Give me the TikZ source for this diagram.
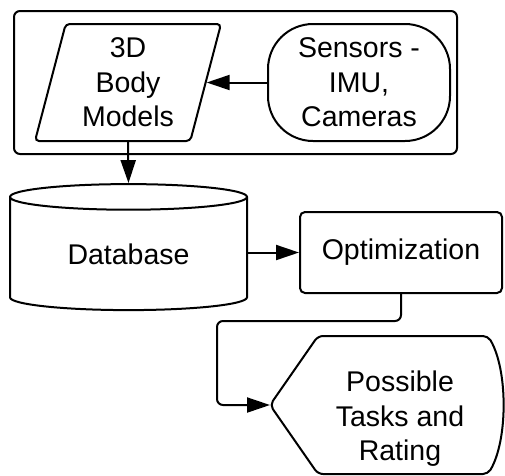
\documentclass[tikz,border=0pt]{standalone}
\usepackage{fontspec}
\setmainfont{Liberation Sans}
\usetikzlibrary{shapes.geometric, arrows.meta}

\tikzset{
    block/.style={draw, line width=2pt, align=center,
        font=\fontsize{28.5}{34.5}\selectfont},
    conn/.style={line width=2pt, -{Triangle[length=23pt,width=15pt]}}
}

\begin{document}
\begin{tikzpicture}[x=1pt, y=-1pt]
    \useasboundingbox (0,0) rectangle (505,475);

    % Sensing group
    \node[draw, line width=2pt, rounded corners=6pt,
        minimum width=443pt, minimum height=143pt] (group) at (235.5,82.5) {};
    \node[block, trapezium, trapezium stretches body,
        trapezium left angle=71, trapezium right angle=109,
        rounded corners=4pt, minimum width=186pt, minimum height=117pt,
        inner sep=0pt] (models) at (128,82.5) {3D\\Body\\Models};
    \node[block, rounded corners=45pt, minimum width=182pt,
        minimum height=117pt, inner sep=0pt] (sensors) at (359,82.5)
        {Sensors -\\IMU,\\Cameras};

    % Storage and processing
    \node[block, cylinder, shape border rotate=90, shape aspect=0.21,
        minimum width=237pt, minimum height=126pt, inner sep=0pt]
        (db) at (128.5,254) {Database};
    \node[block, rounded corners=5pt, minimum width=202pt,
        minimum height=81pt, inner sep=0pt] (optim) at (401,252.5)
        {Optimization};

    % Output display
    \node[align=center, font=\fontsize{28.5}{34.5}\selectfont]
        (tasks) at (400,419) {Possible\\Tasks and\\Rating};
    \coordinate (tasksin) at (270,405);
    \draw[line width=2pt, rounded corners=5pt]
        (tasksin) -- (318,336) -- (488,336)
        .. controls (508,370) and (508,440) .. (488,474)
        -- (318,474) -- cycle;

    % Connectors
    \draw[conn] (sensors.west) -- (models.east |- sensors.west);
    \draw[conn] (models.south) -- (db.north);
    \draw[conn] (db.east |- optim.west) -- (optim.west);
    \draw[conn, rounded corners=6pt] (optim.south) -- ++(0,27)
        -| ([xshift=-53pt]tasksin) -- (tasksin);
\end{tikzpicture}
\end{document}
